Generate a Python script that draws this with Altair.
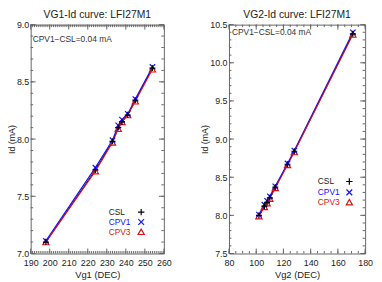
import altair as alt
import pandas as pd

# ---- data ----
vg1 = [198, 224, 233, 236, 238, 241, 245, 254]
id1_csl = [7.10, 7.73, 7.98, 8.10, 8.15, 8.21, 8.34, 8.62]
id1_cpv1 = [7.11, 7.75, 7.99, 8.12, 8.17, 8.22, 8.35, 8.63]
id1_cpv3 = [7.10, 7.72, 7.97, 8.09, 8.15, 8.21, 8.33, 8.61]

vg2 = [102, 106, 108, 110, 114, 123, 128, 171]
id2_csl = [8.00, 8.12, 8.17, 8.23, 8.37, 8.67, 8.84, 10.38]
id2_cpv1 = [8.01, 8.14, 8.19, 8.25, 8.38, 8.68, 8.85, 10.40]
id2_cpv3 = [7.99, 8.11, 8.16, 8.22, 8.36, 8.66, 8.83, 10.37]

series_names = ["CSL", "CPV1", "CPV3"]
title1 = "VG1-Id curve: LFI27M1"
title2 = "VG2-Id curve: LFI27M1"
xtitle1 = "Vg1 (DEC)"
xtitle2 = "Vg2 (DEC)"
ytitle = "Id (mA)"
note = "CPV1\u2212CSL=0.04 mA"

x1_major = [190, 200, 210, 220, 230, 240, 250, 260]
x1_minor = list(range(190, 261, 1))
y1_major = [7.0, 7.5, 8.0, 8.5, 9.0]
y1_minor = [round(7.0 + 0.1 * i, 1) for i in range(21)]
x2_major = [80, 100, 120, 140, 160, 180]
x2_minor = list(range(80, 181, 5))
y2_major = [7.5, 8.0, 8.5, 9.0, 9.5, 10.0, 10.5]
y2_minor = [round(7.5 + 0.1 * i, 1) for i in range(31)]

# ---- styling ----
H = 232
FONT = "Liberation Sans"
FRAME = "#666666"
TXT = "#222222"
BLUE = "#1010ff"
RED = "#dd1111"
PLUS = "M-1,0L1,0M0,-1L0,1"
CROSS = "M-1,-1L1,1M-1,1L1,-1"


def panel(W, vg, csl, cpv1, cpv3, xdom, ydom, xmaj, xmin, ymaj, ymin,
          title, xtitle, leg_tx, leg_sx, leg_y, note_xy):
    xs = alt.Scale(domain=xdom, nice=False, zero=False)
    ys = alt.Scale(domain=ydom, nice=False, zero=False)
    xax = alt.Axis(values=xmaj, format="d", title=xtitle, labelOverlap=False,
                   labelFlush=False, labelPadding=5, titlePadding=2)
    yax = alt.Axis(values=ymaj, format=".1f", title=ytitle, labelOverlap=False,
                   labelFlush=False, labelPadding=2, titlePadding=0, titleFontSize=9)

    def X(f):
        return alt.X(f, scale=xs, axis=xax)

    def Y(f):
        return alt.Y(f, scale=ys, axis=yax)

    df = pd.DataFrame({"vg": vg, "csl": csl, "cpv1": cpv1, "cpv3": cpv3})
    base = alt.Chart(df)

    layers = []
    layers.append(base.mark_line(color="black", strokeWidth=1).encode(
        x=X("vg:Q"), y=Y("csl:Q")))
    layers.append(base.mark_line(color=BLUE, strokeWidth=1.2).encode(
        x=X("vg:Q"), y=Y("cpv1:Q")))
    layers.append(base.mark_line(color=RED, strokeWidth=1.1).encode(
        x=X("vg:Q"), y=Y("cpv3:Q")))
    layers.append(base.mark_point(shape="triangle-up", filled=False, color=RED,
                                  strokeWidth=1.2, size=40, opacity=1).encode(
        x=X("vg:Q"), y=Y("cpv3:Q")))
    layers.append(base.mark_point(shape=CROSS, filled=False, color=BLUE,
                                  strokeWidth=1.2, size=30, opacity=1).encode(
        x=X("vg:Q"), y=Y("cpv1:Q")))
    layers.append(base.mark_point(shape=PLUS, filled=False, color="black",
                                  strokeWidth=1.2, size=36, opacity=1).encode(
        x=X("vg:Q"), y=Y("csl:Q")))

    # inward ticks on all four sides
    for vals, L in ((xmin, 2.5), (xmaj, 5)):
        tb = alt.Chart(pd.DataFrame({"v": vals})).mark_rule(color=FRAME, strokeWidth=1)
        layers.append(tb.encode(x=X("v:Q"), y=alt.value(H), y2=alt.value(H - L)))
        layers.append(tb.encode(x=X("v:Q"), y=alt.value(0), y2=alt.value(L)))
    for vals, L in ((ymin, 2.5), (ymaj, 5)):
        tb = alt.Chart(pd.DataFrame({"v": vals})).mark_rule(color=FRAME, strokeWidth=1)
        layers.append(tb.encode(y=Y("v:Q"), x=alt.value(0), x2=alt.value(L)))
        layers.append(tb.encode(y=Y("v:Q"), x=alt.value(W), x2=alt.value(W - L)))

    # legend
    colors = [TXT, BLUE, RED]
    shapes = [PLUS, CROSS, "triangle-up"]
    sizes = [42, 34, 40]
    for name, c, shp, sz, ly in zip(series_names, colors, shapes, sizes, leg_y):
        one = alt.Chart(pd.DataFrame({"t": [name]}))
        layers.append(one.mark_text(align="left", baseline="middle", font=FONT,
                                    fontSize=8.5, color=c).encode(
            text="t:N", x=alt.value(leg_tx), y=alt.value(ly)))
        layers.append(one.mark_point(shape=shp, filled=False,
                                     color=("black" if name == "CSL" else c),
                                     strokeWidth=1.2, size=sz, opacity=1).encode(
            x=alt.value(leg_sx), y=alt.value(ly)))

    # annotation
    layers.append(alt.Chart(pd.DataFrame({"t": [note]})).mark_text(
        align="left", baseline="middle", font=FONT, fontSize=8.5, color="#333333").encode(
        text="t:N", x=alt.value(note_xy[0]), y=alt.value(note_xy[1])))

    return alt.layer(*layers).properties(
        width=W, height=H,
        title=alt.TitleParams(title, fontSize=10.5, font=FONT, fontWeight="normal",
                              color=TXT, offset=0, anchor="middle"))


left = panel(135, vg1, id1_csl, id1_cpv1, id1_cpv3, [190, 260], [7.0, 9.0],
             x1_major, x1_minor, y1_major, y1_minor, title1, xtitle1,
             79, 112, [H - 42, H - 32, H - 22], (2, 15))
right = panel(138, vg2, id2_csl, id2_cpv1, id2_cpv3, [80, 180], [7.5, 10.5],
              x2_major, x2_minor, y2_major, y2_minor, title2, xtitle2,
              90, 122, [H - 73, H - 62, H - 52], (3, 8))

chart = alt.hconcat(left, right, spacing=66, bounds="flush").properties(
    padding={"left": -2, "top": 0, "right": 0, "bottom": 0}
).configure_view(stroke=FRAME, strokeWidth=1).configure_axis(
    grid=False, domain=False, ticks=False, tickSize=0,
    labelFont=FONT, labelFontSize=9, labelColor=TXT,
    titleFont=FONT, titleFontSize=9.5, titleFontWeight="normal", titleColor=TXT
)

chart.save("out.html", embed_options={"renderer": "svg", "actions": False})
